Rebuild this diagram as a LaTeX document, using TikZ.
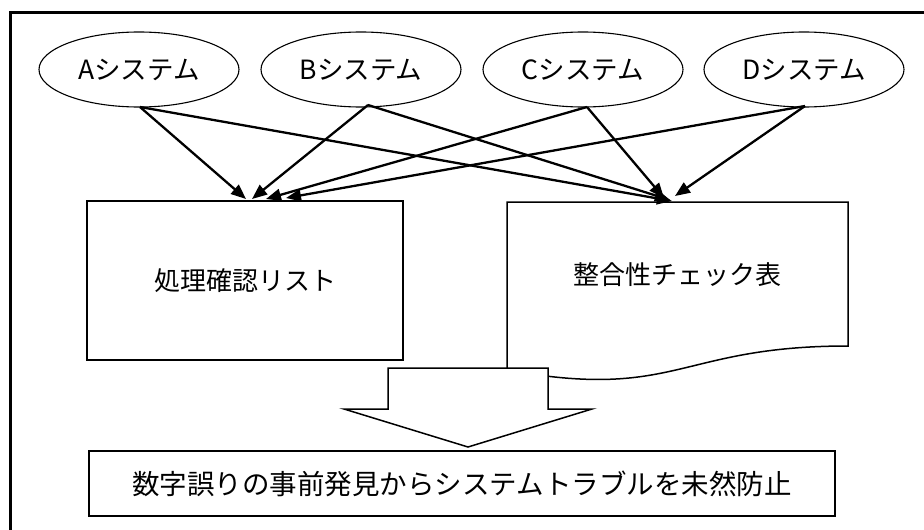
\documentclass[tikz,border=0pt]{standalone}
\usepackage{fontspec}
\setmainfont{Noto Sans CJK JP}
\usetikzlibrary{shapes.geometric,arrows.meta}
\begin{document}
\begin{tikzpicture}[x=1pt,y=-1pt,
  sys/.style={ellipse,draw,line width=1.1pt,minimum width=200pt,minimum height=75pt,inner sep=0pt,font=\fontsize{26.5}{30}\selectfont},
  box/.style={rectangle,draw,fill=white,line width=1.5pt,inner sep=0pt,font=\fontsize{26}{30}\selectfont},
  conn/.style={line width=2.3pt,-{Triangle[length=15pt,width=12pt]}},
  outline/.style={draw,fill=white,line width=1.5pt,line join=miter}]
\useasboundingbox (0,0) rectangle (924,530);
\draw[line width=3pt] (10,12) rectangle (960,570);

% systems
\node[sys] (A) at (139,69.5) {Aシステム};
\node[sys] (B) at (361,69.5) {Bシステム};
\node[sys] (C) at (583,69.5) {Cシステム};
\node[sys] (D) at (804,69.5) {Dシステム};

% left box
\node[box,minimum width=316pt,minimum height=159pt] (L) at (245,280.5) {処理確認リスト};

% document shape
\draw[outline] (507,202) -- (848,202) -- (848,346)
  .. controls (677.5,346) and (677.5,401) .. (507,370) -- cycle;
\node[font=\fontsize{26}{30}\selectfont,inner sep=0pt] (R) at (677,275) {整合性チェック表};

% block arrow
\draw[outline] (388,368) -- (548,368) -- (548,409) -- (592,409) -- (468,447) -- (344,409) -- (388,409) -- cycle;
\coordinate (T) at (468,447);

% bottom box
\node[box,minimum width=746pt,minimum height=65pt,font=\fontsize{27.5}{30}\selectfont] (E) at (462,483.5) {数字誤りの事前発見からシステムトラブルを未然防止};

% start points
\coordinate (As) at (140,107);
\coordinate (Bs) at (368,105);
\coordinate (Cs) at (587,107);
\coordinate (Ds) at (805,106);
% end points on left box
\coordinate (La) at (246,199);
\coordinate (Lb) at (252,199);
\coordinate (Lc) at (266,199);
\coordinate (Ld) at (286,198);
% end points on right box
\coordinate (Ra) at (672,201);
\coordinate (Rb) at (670,200);
\coordinate (Rc) at (664,198);
\coordinate (Rd) at (675,196);

\draw[conn] (As) -- (La);
\draw[conn] (As) -- (Ra);
\draw[conn] (Bs) -- (Lb);
\draw[conn] (Bs) -- (Rb);
\draw[conn] (Cs) -- (Lc);
\draw[conn] (Cs) -- (Rc);
\draw[conn] (Ds) -- (Ld);
\draw[conn] (Ds) -- (Rd);
\end{tikzpicture}
\end{document}
